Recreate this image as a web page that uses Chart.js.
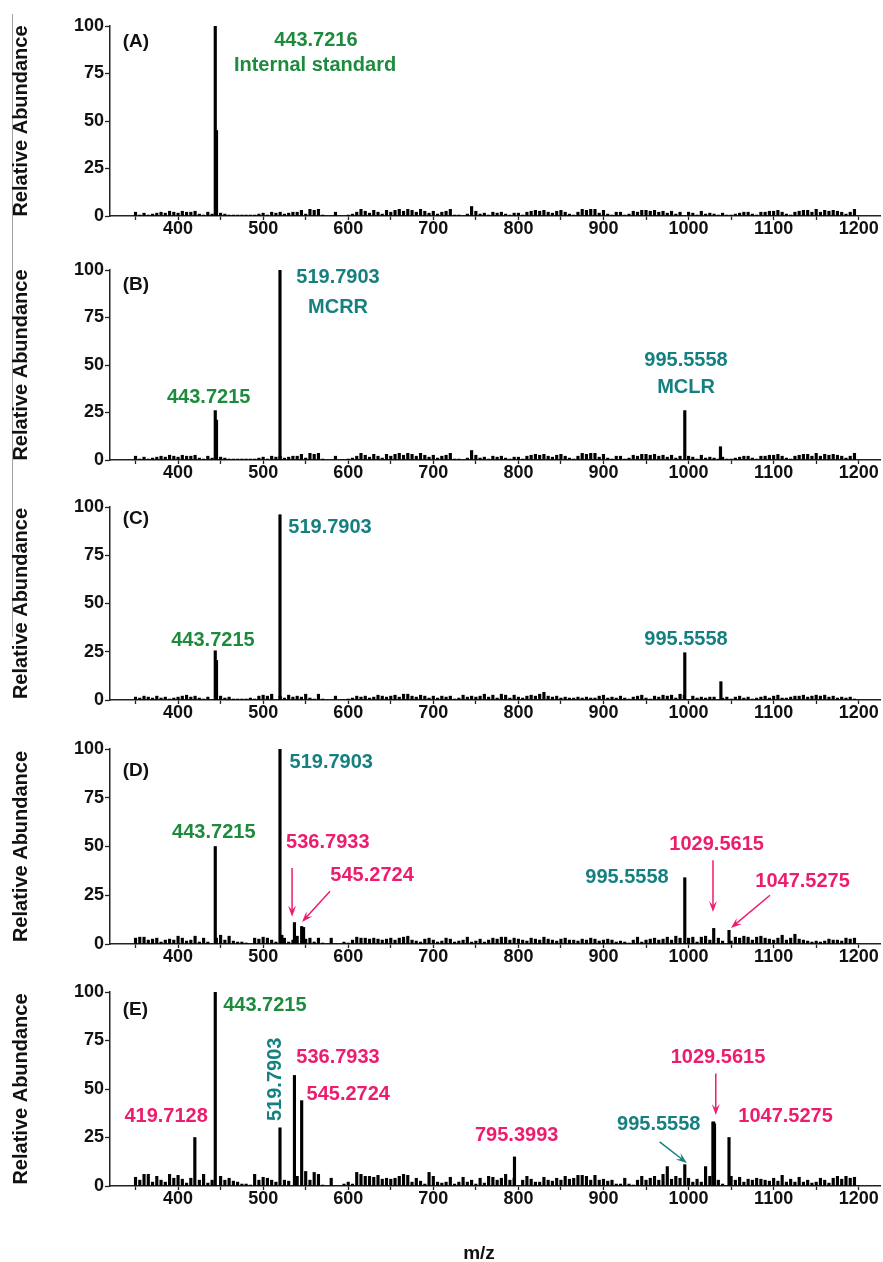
<!DOCTYPE html>
<html>
<head>
<meta charset="utf-8">
<script src="https://cdn.jsdelivr.net/npm/chart.js@4.4.1/dist/chart.umd.min.js"></script>
<style>
  body { margin: 0; background: #fff; width: 883px; height: 1262px; position: relative; overflow: hidden; }
  .panel { position: absolute; left: 0; width: 883px; }
  #edge { position: absolute; left: 12px; top: 14px; height: 623px; border-left: 1px solid #a0a0a0; }
</style>
</head>
<body>
<div id="edge"></div>
<div class="panel" style="top:10px;height:236px"><canvas id="cA"></canvas></div>
<div class="panel" style="top:254px;height:236px"><canvas id="cB"></canvas></div>
<div class="panel" style="top:491px;height:239px"><canvas id="cC"></canvas></div>
<div class="panel" style="top:733px;height:241px"><canvas id="cD"></canvas></div>
<div class="panel" style="top:976px;height:286px"><canvas id="cE"></canvas></div>
<script>
// axis ticks
const xTickValues = [350, 400, 450, 500, 550, 600, 650, 700, 750, 800, 850, 900, 950, 1000, 1050, 1100, 1150, 1200];
const yTickValues = [0, 12.5, 25, 37.5, 50, 62.5, 75, 87.5, 100];

// background noise, one value every 5 m/z from 350 to 1200
const noiseStart = 350;
const noiseStep = 5;
const noiseAB = [
  2, 0.5, 1.5, 0.5, 1, 1.5, 2, 1.5, 2.5, 2, 1.5, 2.5, 2, 2, 2.5, 1, 0.5, 2, 1, 0,
  1.5, 1, 0.5, 0.5, 0.5, 0.5, 0.5, 0.5, 0.5, 1, 1.5, 0.5, 2, 1.5, 2, 1, 1.5, 2, 2, 3,
  1, 3.5, 3, 3.5, 0.5, 0, 0, 2, 0, 0, 0.5, 1, 2, 3.5, 2.5, 1.5, 3, 2, 1, 3,
  2, 3, 3.5, 2.5, 3.5, 3, 2, 3.5, 2.5, 1.5, 2.5, 1, 2, 2.5, 3.5, 0.5, 0.5, 0, 1, 5,
  2.5, 1, 1.5, 0.5, 2, 1.5, 2, 1, 0.5, 1.5, 1.5, 0.5, 2, 2.5, 3, 2.5, 3, 2, 1.5, 2.5,
  3, 2, 1, 0.5, 2, 3.5, 3, 3.5, 3.5, 1.5, 3, 1, 0.5, 2, 2, 0.5, 1, 2.5, 2, 3,
  3, 2.5, 3, 2, 2.5, 1.5, 2.5, 1, 2, 0, 2, 1.5, 0.5, 2.5, 1, 1.5, 1, 0.5, 1.5, 0.5,
  0.5, 1, 1.5, 2, 2, 1, 0.5, 2, 2, 2.5, 2.5, 3, 2, 1, 0.5, 2, 2.5, 3, 3, 2,
  3.5, 2, 3, 2.5, 3, 2.5, 2, 1, 2, 3.5, 0
];
const noiseC = [
  1.5, 1, 2, 1.5, 1, 2, 1, 1.5, 0.5, 1, 1.5, 2, 2.5, 1.5, 2, 1, 0.5, 1.5, 0, 0,
  2, 1, 1.5, 0.5, 0.5, 0.5, 0.5, 1, 0.5, 2, 2.5, 2, 3, 0, 2, 1, 2.5, 1.5, 2, 1.5,
  3, 1, 0.5, 3, 0.5, 0, 0, 2, 0, 0, 0.5, 1, 2, 1.5, 2, 1, 1.5, 2.5, 2, 1.5,
  2, 2.5, 1.5, 3, 3, 2, 1.5, 2.5, 2, 1, 2, 1, 2, 1.5, 2, 0.5, 1, 2.5, 1.5, 2,
  1.5, 2, 3, 1.5, 2.5, 1, 3, 2.5, 1, 2.5, 1.5, 1, 2, 2.5, 2, 3, 4, 2, 1.5, 2,
  1, 1.5, 1, 1, 1.5, 1, 1.5, 1, 1, 2, 2.5, 1, 1.5, 1, 2, 1, 0.5, 1.5, 2, 2.5,
  1, 0.5, 2, 1.5, 2.5, 2, 2.5, 1, 3, 2.5, 0, 2, 1, 1.5, 1, 1.5, 1.5, 0, 1, 1.5,
  0.5, 1.5, 2, 1, 1.5, 0.5, 1, 1.5, 2, 1, 2, 2.5, 1, 1, 1.5, 2, 2, 2.5, 1.5, 2,
  2.5, 2, 2.5, 1.5, 2, 1, 1.5, 1, 1.5, 0.5, 0
];
const noiseD = [
  3, 3.5, 3.5, 2, 2.5, 3, 1, 2, 2.5, 2, 4, 3, 1.5, 2, 4, 1, 3, 1, 0, 3,
  4.5, 2, 4, 1.5, 1, 1, 0.5, 0, 3, 2.5, 3.5, 3, 2, 1, 0, 3, 1, 2, 4, 0,
  2.5, 3, 1, 3, 0.5, 0, 3, 0, 0, 1, 0.5, 2, 3.5, 3, 3, 2.5, 3, 2.5, 2, 2.5,
  3, 2, 3, 3.5, 4, 2, 1.5, 1, 2.5, 3, 2, 1, 1.5, 3, 2.5, 1, 1.5, 2, 3.5, 1,
  1.5, 2.5, 1, 2, 3, 2.5, 3.5, 3.5, 2, 3, 2.5, 2, 1.5, 3, 2.5, 2, 3.5, 2.5, 2, 1.5,
  2.5, 3, 2, 2, 1.5, 2.5, 2, 3, 2.5, 1.5, 2, 2.5, 2, 1, 1.5, 1, 0.5, 2, 3.5, 1,
  2, 2.5, 3, 2, 2.5, 3.5, 2, 4, 3, 0, 3, 3.5, 1, 3.5, 4, 2, 0, 3, 1.5, 0,
  1.5, 3.5, 3, 4, 3.5, 2, 3.5, 4, 3, 2.5, 2, 3, 4.5, 2, 3, 5, 2.5, 2, 1.5, 1,
  1.5, 1, 1.5, 2.5, 2, 2, 1.5, 3, 2.5, 3, 0
];
const noiseE = [
  4.5, 3, 6, 6, 2, 5, 3, 2, 6, 4, 5.5, 3.5, 1.5, 4, 0, 3, 6, 1.5, 3, 0,
  5, 3, 4, 2.5, 2, 1, 1, 0.5, 6, 3, 4.5, 4, 3, 2, 0, 3, 2.5, 0, 5, 0,
  7.5, 3, 7, 6, 0.5, 0, 4, 0, 0, 1, 2, 1, 7, 6, 5, 5, 4.5, 5.5, 3.5, 4,
  3.5, 4, 5, 6, 5.5, 2, 4, 2.5, 1, 7, 5, 2, 1.5, 2, 4.5, 1, 2, 4.5, 2, 3,
  1, 4, 1.5, 5, 4.5, 3, 4, 6, 3, 4, 0, 3, 5, 3.5, 2, 2, 4.5, 3, 2.5, 4,
  3, 5, 3.5, 4, 5.5, 5.5, 5, 3, 5.5, 3, 3.5, 2.5, 3, 1, 1, 4, 1, 0.5, 3, 5,
  3, 4, 5, 3, 6, 0, 3.5, 5, 4, 0, 4, 2, 3.5, 2, 0, 5, 0, 3, 1, 0,
  5, 3, 4.5, 2, 3.5, 3, 4, 3.5, 3, 2.5, 4, 2.5, 5.5, 2, 3.5, 2, 4.5, 2, 3, 1.5,
  2, 4, 3, 1.5, 4, 5, 3.5, 5, 4, 4.5, 0
];

// labelled / main peaks
const peakMzA = [443.72, 445.2];
const peakA = [100, 45];
const peakMzB = [443.72, 445.2, 519.79, 995.56, 1037.5];
const peakB = [26, 21, 100, 26, 7];
const peakMzC = [443.72, 445.2, 519.79, 995.56, 1038];
const peakC = [25.5, 20.5, 96, 24.5, 9.5];
const peakMzD = [443.72, 519.79, 522, 536.79, 545.27, 547.5, 995.56, 1029.56, 1047.53];
const peakD = [50, 100, 4.5, 11, 9, 8.5, 34, 8, 7];
const peakMzE = [419.71, 443.72, 519.79, 536.79, 545.27, 795.4, 975, 995.56, 1020, 1028.6, 1029.56, 1030.5, 1047.53];
const peakE = [25, 100, 30, 57, 44, 15, 10, 11, 10, 33, 33, 32, 25];

const GREEN = 'rgb(30,138,62)';
const TEAL = 'rgb(22,128,128)';
const PINK = 'rgb(238,28,110)';
const FONT = 'Arial, "Liberation Sans", Helvetica, sans-serif';

// annotation placement (text centre in data units)
const notesA = [
  { text: '(A)', x: 335, y: 91.6, color: '#111', align: 'left', size: 19 },
  { text: '443.7216', x: 562, y: 92.6, color: GREEN },
  { text: 'Internal standard', x: 561, y: 79, color: GREEN }
];
const notesB = [
  { text: '(B)', x: 335, y: 92, color: '#111', align: 'left', size: 19 },
  { text: '519.7903', x: 588, y: 96, color: TEAL },
  { text: 'MCRR', x: 588, y: 80.5, color: TEAL },
  { text: '443.7215', x: 436, y: 33, color: GREEN },
  { text: '995.5558', x: 997, y: 52.6, color: TEAL },
  { text: 'MCLR', x: 997, y: 38.4, color: TEAL }
];
const notesC = [
  { text: '(C)', x: 335, y: 93.8, color: '#111', align: 'left', size: 19 },
  { text: '519.7903', x: 578.6, y: 89.6, color: TEAL },
  { text: '443.7215', x: 441, y: 31, color: GREEN },
  { text: '995.5558', x: 997, y: 31.6, color: TEAL }
];
const notesD = [
  { text: '(D)', x: 335, y: 89, color: '#111', align: 'left', size: 19 },
  { text: '519.7903', x: 580, y: 93, color: TEAL },
  { text: '443.7215', x: 442, y: 57, color: GREEN },
  { text: '536.7933', x: 576, y: 52, color: PINK },
  { text: '545.2724', x: 628, y: 35, color: PINK },
  { text: '995.5558', x: 927.6, y: 34, color: TEAL },
  { text: '1029.5615', x: 1033, y: 51, color: PINK },
  { text: '1047.5275', x: 1134, y: 32, color: PINK }
];
const arrowsD = [
  { from: [534, 39], to: [534, 14], color: PINK },
  { from: [578.6, 27], to: [545.7, 11.3], color: PINK },
  { from: [1028.7, 43], to: [1028.7, 16.4], color: PINK },
  { from: [1095.7, 25], to: [1049.8, 8.2], color: PINK }
];
const notesE = [
  { text: '(E)', x: 335, y: 90.7, color: '#111', align: 'left', size: 19 },
  { text: '443.7215', x: 502, y: 92.8, color: GREEN },
  { text: '519.7903', x: 514, y: 55, color: TEAL, rotate: -Math.PI / 2 },
  { text: '536.7933', x: 588, y: 66, color: PINK },
  { text: '545.2724', x: 600, y: 47, color: PINK },
  { text: '419.7128', x: 386, y: 35.6, color: PINK },
  { text: '795.3993', x: 798, y: 26, color: PINK },
  { text: '995.5558', x: 965, y: 31.5, color: TEAL },
  { text: '1029.5615', x: 1034.6, y: 66.5, color: PINK },
  { text: '1047.5275', x: 1114, y: 35.6, color: PINK }
];
const arrowsE = [
  { from: [966, 22.7], to: [998, 11.9], color: TEAL },
  { from: [1032, 58], to: [1032, 36.6], color: PINK }
];

const toPoints = (xs, ys) => ys.map((v, i) => ({ x: xs[i], y: v }));
const noiseX = noiseAB.map((_, i) => noiseStart + i * noiseStep);

const annotate = {
  id: 'annotate',
  afterDatasetsDraw(chart, args, opts) {
    const { ctx } = chart;
    const sx = chart.scales.x, sy = chart.scales.y;
    ctx.save();
    (opts.arrows || []).forEach(a => {
      const x0 = sx.getPixelForValue(a.from[0]), y0 = sy.getPixelForValue(a.from[1]);
      const x1 = sx.getPixelForValue(a.to[0]), y1 = sy.getPixelForValue(a.to[1]);
      const ang = Math.atan2(y1 - y0, x1 - x0);
      const len = 11, w = 4;
      ctx.strokeStyle = a.color;
      ctx.fillStyle = a.color;
      ctx.lineWidth = 1.5;
      ctx.beginPath();
      ctx.moveTo(x0, y0);
      ctx.lineTo(x1 - 6 * Math.cos(ang), y1 - 6 * Math.sin(ang));
      ctx.stroke();
      ctx.beginPath();
      ctx.moveTo(x1, y1);
      ctx.lineTo(x1 - len * Math.cos(ang) + w * Math.sin(ang), y1 - len * Math.sin(ang) - w * Math.cos(ang));
      ctx.lineTo(x1 - 0.6 * len * Math.cos(ang), y1 - 0.6 * len * Math.sin(ang));
      ctx.lineTo(x1 - len * Math.cos(ang) - w * Math.sin(ang), y1 - len * Math.sin(ang) + w * Math.cos(ang));
      ctx.closePath();
      ctx.fill();
    });
    ctx.textBaseline = 'middle';
    (opts.notes || []).forEach(n => {
      ctx.font = 'bold ' + (n.size || 20) + 'px ' + FONT;
      ctx.fillStyle = n.color;
      ctx.textAlign = n.align || 'center';
      const px = sx.getPixelForValue(n.x), py = sy.getPixelForValue(n.y);
      if (n.rotate) {
        ctx.save();
        ctx.translate(px, py);
        ctx.rotate(n.rotate);
        ctx.fillText(n.text, 0, 0);
        ctx.restore();
      } else {
        ctx.fillText(n.text, px, py);
      }
    });
    if (opts.xTitle) {
      ctx.font = 'bold 19px ' + FONT;
      ctx.fillStyle = '#111';
      ctx.textAlign = 'center';
      ctx.textBaseline = 'alphabetic';
      ctx.fillText(opts.xTitle.text, opts.xTitle.px, opts.xTitle.py);
    }
    ctx.restore();
  }
};

const makePanel = (id, noise, peakMz, peakVal, notes, arrows, axisHeight, xTitle) => {
  const ctx = document.getElementById(id).getContext('2d');
  return new Chart(ctx, {
    type: 'bar',
    data: {
      datasets: [
        { data: toPoints(noiseX, noise), backgroundColor: '#000', barThickness: 2.5, grouped: false },
        { data: toPoints(peakMz, peakVal), backgroundColor: '#000', barThickness: 2.5, grouped: false }
      ]
    },
    options: {
      responsive: true,
      maintainAspectRatio: false,
      animation: false,
      layout: { padding: { top: 16, right: 3, left: 0, bottom: 0 } },
      plugins: {
        legend: { display: false },
        tooltip: { enabled: false },
        annotate: { notes: notes, arrows: arrows, xTitle: xTitle }
      },
      scales: {
        x: {
          type: 'linear',
          min: 320,
          max: 1225,
          offset: false,
          afterFit: s => { s.height = axisHeight; },
          afterBuildTicks: s => { s.ticks = xTickValues.map(v => ({ value: v })); },
          grid: { display: true, drawOnChartArea: false, offset: false, tickLength: 4, tickColor: '#222', tickWidth: 1.3 },
          border: { display: true, color: '#222', width: 1.5 },
          ticks: {
            autoSkip: false,
            maxRotation: 0,
            padding: -2,
            color: '#111',
            font: { family: FONT, size: 18, weight: 'bold' },
            callback: v => (v % 100 === 0 ? String(v) : '')
          }
        },
        y: {
          min: 0,
          max: 100,
          afterFit: s => { s.width = 110; },
          afterBuildTicks: s => { s.ticks = yTickValues.map(v => ({ value: v })); },
          grid: { display: true, drawOnChartArea: false, tickLength: 5, tickColor: '#222', tickWidth: 1.3 },
          border: { display: true, color: '#222', width: 1.5 },
          ticks: {
            padding: 1,
            color: '#111',
            font: { family: FONT, size: 18, weight: 'bold' },
            callback: v => (v % 25 === 0 ? String(v) : '')
          },
          title: {
            display: true,
            text: 'Relative Abundance',
            color: '#111',
            font: { family: FONT, size: 20, weight: 'bold' },
            padding: { top: 9, bottom: 0 }
          }
        }
      }
    },
    plugins: [annotate]
  });
};

makePanel('cA', noiseAB, peakMzA, peakA, notesA, [], 30);
makePanel('cB', noiseAB, peakMzB, peakB, notesB, [], 30);
makePanel('cC', noiseC, peakMzC, peakC, notesC, [], 30);
makePanel('cD', noiseD, peakMzD, peakD, notesD, arrowsD, 30);
makePanel('cE', noiseE, peakMzE, peakE, notesE, arrowsE, 76, { text: 'm/z', px: 479, py: 283 });
</script>
</body>
</html>
